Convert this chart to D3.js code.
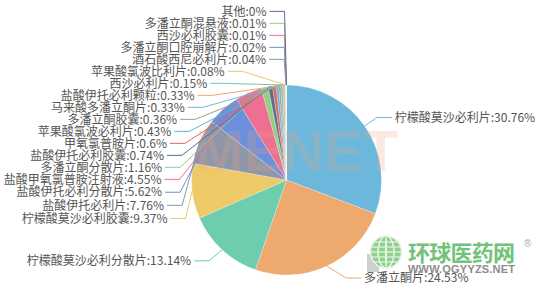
<!DOCTYPE html>
<html><head><meta charset="utf-8">
<script src="https://cdn.jsdelivr.net/npm/d3@7"></script>
<style>html,body{margin:0;padding:0;background:#fff;} svg{display:block}</style>
</head><body><svg id="c" width="541" height="290"></svg>
<script>
const categories = ["柠檬酸莫沙必利片","多潘立酮片","柠檬酸莫沙必利分散片","柠檬酸莫沙必利胶囊","盐酸伊托必利片","盐酸伊托必利分散片","盐酸甲氧氯普胺注射液","多潘立酮分散片","盐酸伊托必利胶囊","甲氧氯普胺片","苹果酸氯波必利片","多潘立酮胶囊","马来酸多潘立酮片","盐酸伊托必利颗粒","西沙必利片","苹果酸氯波比利片","酒石酸西尼必利片","多潘立酮口腔崩解片","西沙必利胶囊","多潘立酮混悬液","其他"];
const values = [30.76,24.53,13.14,9.37,7.76,5.62,4.55,1.16,0.74,0.6,0.43,0.36,0.33,0.33,0.15,0.08,0.04,0.02,0.01,0.01,0];
const palette = ["#6cb8dc","#eea96e","#6dcdae","#eec968","#8d97a9","#6d8fdd","#ed7093","#93cf80","#5d6d90","#e0645c","#5db7c2","#a79d8c"];

const W=541,H=290, cx=286.5, cy=180, r=95, len=15, len2=15, lineH=12;
const font = "'Noto Sans CJK SC','Microsoft YaHei',sans-serif";
const svg = d3.select('#c');

const pie = d3.pie().sort(null).value(d=>d.value);
const arcs = pie(categories.map((c,i)=>({name:c,value:values[i]})));
const arc = d3.arc().innerRadius(0).outerRadius(r);
const g = svg.append('g').attr('transform',`translate(${cx},${cy})`);
g.selectAll('path').data(arcs).join('path')
  .attr('d',arc)
  .attr('fill',d=>palette[d.index%palette.length])
  .attr('stroke','#fff').attr('stroke-width',0.5).attr('stroke-opacity',0.5);

// center watermark
svg.append('text').attr('x',297).attr('y',171).attr('text-anchor','middle')
  .attr('font-family','Liberation Sans, Arial, sans-serif').attr('font-weight','bold')
  .attr('font-size',58).attr('fill','#f0a27a').attr('opacity',0.22).text('MENET');

// label layout (ECharts-like)
const labels = arcs.map(d=>{
  const mid=(d.startAngle+d.endAngle)/2;
  const dx=Math.sin(mid), dy=-Math.cos(mid);
  const dir = mid>Math.PI? -1:1;
  const x1=cx+r*dx, y1=cy+r*dy;
  const x2=cx+(r+len)*dx, y2=cy+(r+len)*dy;
  const x3=x2+dir*len2;
  return {d, dir, x:x3+dir*5, y:y2, height:lineH, len, len2,
    pts:[[x1,y1],[x2,y2],[x3,y2]], text:`${d.data.name}:${d.data.value}%`};
});

function adjustSide(list, dir){
  list.sort((a,b)=>a.y-b.y);
  function shiftDown(start,end,delta){
    for(let j=start;j<end;j++){
      list[j].y+=delta;
      if(j>start && j+1<end && list[j+1].y>list[j].y+list[j].height){ shiftUp(j,delta/2); return; }
    }
    shiftUp(end-1,delta/2);
  }
  function shiftUp(end,delta){
    for(let j=end;j>=0;j--){
      list[j].y-=delta;
      if(j>0 && list[j].y>list[j-1].y+list[j-1].height) break;
    }
  }
  let lastY=0; const n=list.length;
  for(let i=0;i<n;i++){
    const delta=list[i].y-lastY;
    if(delta<0) shiftDown(i,n,-delta);
    lastY=list[i].y+list[i].height;
  }
  if(H-lastY<0) shiftUp(n-1,lastY-H);
  list.forEach(l=>{
    const dY=Math.abs(l.y-cy);
    const R=r+l.len+l.len2;
    const dX = dY<r+l.len ? Math.sqrt(R*R-dY*dY) : Math.abs(l.x-cx);
    l.x=cx+dX*dir;
  });
}
adjustSide(labels.filter(l=>l.dir<0),-1);
adjustSide(labels.filter(l=>l.dir>0),1);
labels.forEach(l=>{
  const p=l.pts;
  p[2][0]= l.dir<0 ? l.x+3 : l.x-3;
  p[1][1]=p[2][1]=l.y;
  p[1][0]=p[2][0]-l.dir*l.len2;
});

const line=d3.line();
svg.append('g').selectAll('path').data(labels).join('path')
  .attr('d',l=>line(l.pts)).attr('fill','none')
  .attr('stroke',l=>palette[l.d.index%palette.length]).attr('stroke-width',1);
svg.append('g').selectAll('text').data(labels).join('text')
  .attr('x',l=>l.x).attr('y',l=>l.y).attr('dy','0.35em')
  .attr('text-anchor',l=>l.dir<0?'end':'start')
  .attr('font-family',font).attr('font-size',12).attr('fill','#555')
  .text(l=>l.text);

// logo watermark
const logo=svg.append('g');
logo.append('rect').attr('x',367).attr('y',254).attr('width',12).attr('height',18).attr('fill','#cfcfcf');
const gx=386, gy=252, gr=16;
logo.append('circle').attr('cx',gx).attr('cy',gy).attr('r',gr).attr('fill','#8fcf8f');
const grid=logo.append('g').attr('stroke','#e6f5e6').attr('stroke-width',1.2).attr('fill','none');
[-10,-5,0,5,10].forEach(o=>{
  const h=Math.sqrt(gr*gr-o*o);
  grid.append('line').attr('x1',gx-h).attr('x2',gx+h).attr('y1',gy+o).attr('y2',gy+o);
  grid.append('ellipse').attr('cx',gx).attr('cy',gy).attr('rx',Math.abs(o)*1.5+0.5).attr('ry',gr);
});
logo.append('text').attr('x',408).attr('y',261).attr('font-family',font).attr('font-weight','bold')
  .attr('font-size',22).attr('fill','#72c27a').attr('textLength',107).text('环球医药网');
logo.append('text').attr('x',524).attr('y',247).attr('font-family','Liberation Sans, Arial, sans-serif')
  .attr('font-size',10).attr('fill','#aaa').text('®');
logo.append('text').attr('x',408).attr('y',273).attr('font-family','Liberation Sans, Arial, sans-serif')
  .attr('font-weight','bold').attr('font-size',11).attr('fill','#8c8c8c').attr('textLength',107).text('WWW.QGYYZS.NET');
</script></body></html>
